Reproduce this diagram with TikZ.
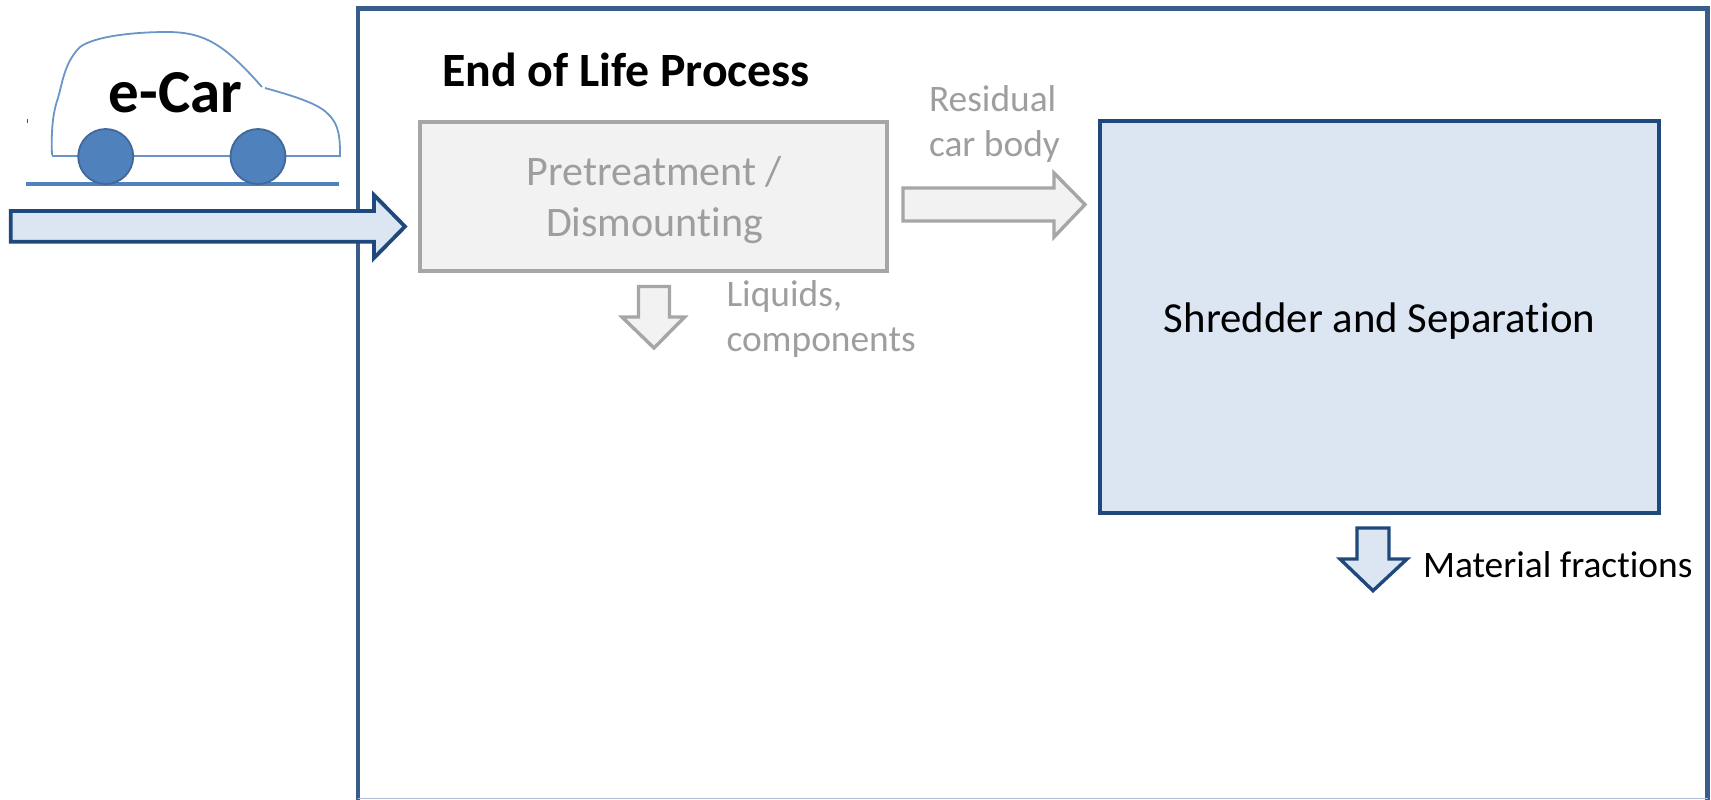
\documentclass[tikz,border=0pt]{standalone}
\usepackage{fontspec}
\setmainfont{Carlito}[RawFeature=-liga]
\definecolor{framec}{HTML}{385D8A}
\definecolor{darkb}{HTML}{1F497D}
\definecolor{lightb}{HTML}{DCE6F2}
\definecolor{greyl}{HTML}{A6A6A6}
\definecolor{greyf}{HTML}{F2F2F2}
\definecolor{wheelf}{HTML}{4F81BD}
\definecolor{wheeld}{HTML}{41689A}
\definecolor{carl}{HTML}{6A95C8}
\tikzset{
  lbl/.style={inner sep=0pt,outer sep=0pt,font=\fontsize{18.7}{22.5}\selectfont},
  greytext/.style={lbl,text=greyl!95!black},
  bluearrow/.style={draw=darkb,fill=lightb,line width=1.9pt,miter limit=10},
  greyarrow/.style={draw=greyl,fill=greyf,line width=1.7pt,miter limit=10},
  wheel/.style={circle,draw=wheeld,fill=wheelf,line width=0.9pt,minimum size=27.5pt,inner sep=0pt},
}
\begin{document}
\begin{tikzpicture}[x=0.5pt,y=-0.5pt]
\useasboundingbox (0,0) rectangle (1711,799);
\draw[framec,line width=2.3pt] (358,800) -- (358,8.5) -- (1707.5,8.5) -- (1707.5,800);
\draw[framec!40,line width=0.6pt] (358,798.5) -- (1707.5,798.5);
% car
\draw[carl,line width=0.9pt] (52,155) .. controls (51,130) and (53,112) .. (58,98)
  .. controls (63,80) and (65,62) .. (80,47) .. controls (95,36) and (135,32) .. (167,32)
  .. controls (205,32) and (225,45) .. (262,87);
\draw[carl,line width=0.9pt] (265,88) .. controls (290,95) and (318,103) .. (328,114)
  .. controls (340,125) and (340,140) .. (340,157);
\coordinate (axleL) at (52,156);
\coordinate (axleR) at (340,156);
\draw[carl,line width=0.9pt] (axleL) -- (axleR);
\coordinate (groundL) at (26,183.7);
\coordinate (groundR) at (339,183.7);
\draw[wheelf,line width=2pt] (groundL) -- (groundR);
\node[wheel] (w1) at (105.7,156.5) {};
\node[wheel] (w2) at (258,156.5) {};
\fill[black!70] (26.5,119) rectangle (27,123);
\node[inner sep=0pt,anchor=base,font=\fontsize{30.5}{34}\selectfont\bfseries] (ecar) at (175.5,112) {e-Car};
% boxes
\node[draw=greyl,fill=greyf,line width=2pt,minimum width=233.5pt,minimum height=74.5pt,inner sep=0pt] (pre) at (653.5,196.5) {};
\node[greytext,align=center,font=\fontsize{21}{25.6}\selectfont] (pretxt) at (654.5,200) {Pretreatment /\\Dismounting};
\node[draw=darkb,fill=lightb,line width=1.9pt,minimum width=279.5pt,minimum height=196pt,inner sep=0pt] (shred) at (1379.5,317) {};
\node[inner sep=0pt,font=\fontsize{21.4}{25}\selectfont] (shredtxt) at (shred) [yshift=-2pt] {Shredder and Separation};
% arrows
\draw[bluearrow] (10.7,211) -- (374,211) -- (374,195) -- (405,226.5) -- (374,258) -- (374,241.7) -- (10.7,241.7) -- cycle;
\draw[greyarrow] (903,188) -- (1054,188) -- (1054,173) -- (1085,204.5) -- (1054,237) -- (1054,221) -- (903,221) -- cycle;
\draw[greyarrow] (638.5,286.5) -- (669.5,286.5) -- (669.5,317) -- (684.6,317) -- (654,348) -- (622,317) -- (638.5,317) -- cycle;
\draw[bluearrow,line width=1.7pt] (1357,528) -- (1389,528) -- (1389,559) -- (1407,559) -- (1373,590.7) -- (1340,559) -- (1357,559) -- cycle;
% labels
\node[lbl,anchor=base west,font=\fontsize{23.9}{28}\selectfont\bfseries] (title) at (442,86) {End of Life Process};
\node[greytext,align=left,anchor=west] (resid) at (929,124) {Residual\\car body};
\node[greytext,align=left,anchor=west] (liq) at (726.5,319) {Liquids,\\components};
\node[lbl,anchor=base west] (mat) at (1423,577) {Material fractions};
\end{tikzpicture}
\end{document}
